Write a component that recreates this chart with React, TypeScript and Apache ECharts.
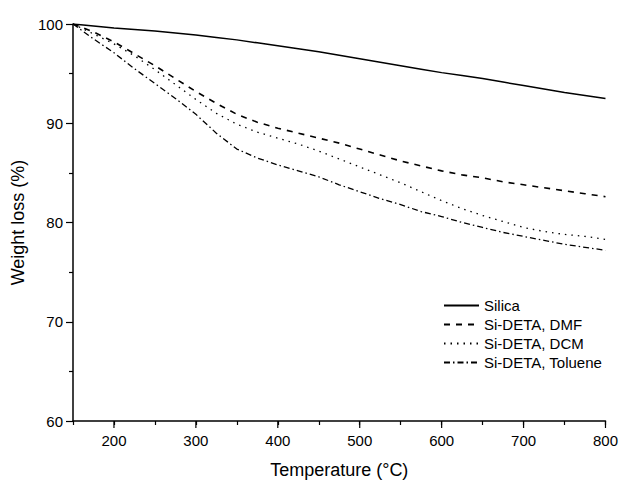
import React, { useEffect, useRef } from "react";
import * as echarts from "echarts";

const temps = [150, 175, 200, 225, 250, 275, 300, 325, 350, 375, 400, 425, 450, 475, 500, 525, 550, 575, 600, 625, 650, 675, 700, 725, 750, 775, 800];
const silica = [100, 99.8, 99.6, 99.45, 99.3, 99.1, 98.9, 98.65, 98.4, 98.1, 97.8, 97.5, 97.2, 96.85, 96.5, 96.15, 95.8, 95.45, 95.1, 94.8, 94.5, 94.15, 93.8, 93.45, 93.1, 92.8, 92.5];
const dmf = [100, 99.2, 98.2, 97.0, 95.8, 94.5, 93.2, 92.0, 90.9, 90.1, 89.5, 89.0, 88.5, 88.0, 87.4, 86.8, 86.2, 85.7, 85.2, 84.8, 84.5, 84.1, 83.8, 83.5, 83.2, 82.9, 82.6];
const dcm = [100, 99.0, 98.0, 96.8, 95.4, 93.9, 92.4, 91.0, 89.9, 89.1, 88.5, 87.9, 87.2, 86.4, 85.6, 84.8, 84.0, 83.1, 82.2, 81.4, 80.7, 80.1, 79.5, 79.1, 78.8, 78.6, 78.3];
const toluene = [100, 98.5, 97.1, 95.5, 94.0, 92.5, 90.9, 89.0, 87.4, 86.5, 85.8, 85.2, 84.6, 83.8, 83.1, 82.4, 81.8, 81.1, 80.6, 80.0, 79.5, 79.0, 78.6, 78.2, 77.8, 77.5, 77.2];
const seriesNames = ["Silica", "Si-DETA, DMF", "Si-DETA, DCM", "Si-DETA, Toluene"];
const majorXTicks = [200, 300, 400, 500, 600, 700, 800];

const FONT = "Liberation Sans, Arial, sans-serif";

export default function App() {
  const ref = useRef<HTMLDivElement>(null);
  useEffect(() => {
    if (!ref.current) return;
    const chart = echarts.init(ref.current, null, { renderer: "svg" });
    const pair = (ys: number[]) => temps.map((t, i) => [t, ys[i]]);
    const axisColor = "#000";
    const hiddenSymbol = { color: "#000", opacity: 0 };
    chart.setOption({
      animation: false,
      backgroundColor: "#fff",
      textStyle: { fontFamily: FONT },
      grid: { left: 73, right: 12, top: 24, bottom: 61, containLabel: false },
      legend: {
        data: seriesNames,
        orient: "vertical",
        left: 438,
        top: 293,
        itemWidth: 35,
        itemHeight: 15,
        itemGap: 4,
        itemStyle: { opacity: 0 },
        textStyle: { fontFamily: FONT, fontSize: 15, color: "#000" },
      },
      xAxis: {
        type: "value",
        min: 150,
        max: 800,
        interval: 50,
        name: "Temperature (°C)",
        nameLocation: "middle",
        nameGap: 40,
        nameTextStyle: { fontFamily: FONT, fontSize: 18, color: "#000" },
        axisLine: { show: true, lineStyle: { color: axisColor, width: 1.5 } },
        axisTick: { show: true, inside: false, length: 4, lineStyle: { color: axisColor, width: 1.2 } },
        axisLabel: {
          fontFamily: FONT,
          fontSize: 15,
          color: "#000",
          margin: 12,
          formatter: (v: number) => (v % 100 === 0 ? String(v) : ""),
        },
        splitLine: { show: false },
      },
      yAxis: {
        type: "value",
        min: 60,
        max: 100,
        interval: 10,
        name: "Weight loss (%)",
        nameLocation: "middle",
        nameGap: 37,
        nameTextStyle: { fontFamily: FONT, fontSize: 18, color: "#000" },
        axisLine: { show: true, lineStyle: { color: axisColor, width: 1.5 } },
        axisTick: { show: true, inside: false, length: 7, lineStyle: { color: axisColor, width: 1.2 } },
        minorTick: { show: true, splitNumber: 2, length: 4, lineStyle: { color: axisColor, width: 1.2 } },
        axisLabel: { fontFamily: FONT, fontSize: 15, color: "#000", margin: 10 },
        splitLine: { show: false },
      },
      series: [
        {
          name: seriesNames[0],
          type: "line",
          data: pair(silica),
          symbol: "none",
          lineStyle: { color: "#000", width: 1.5, type: "solid" },
          itemStyle: hiddenSymbol,
        },
        {
          name: seriesNames[1],
          type: "line",
          data: pair(dmf),
          symbol: "none",
          lineStyle: { color: "#000", width: 1.6, type: [6, 6] },
          itemStyle: hiddenSymbol,
        },
        {
          name: seriesNames[2],
          type: "line",
          data: pair(dcm),
          symbol: "none",
          lineStyle: { color: "#000", width: 1.3, type: [1.5, 5] },
          itemStyle: hiddenSymbol,
        },
        {
          name: seriesNames[3],
          type: "line",
          data: pair(toluene),
          symbol: "none",
          lineStyle: { color: "#000", width: 1.3, type: [6, 3, 1.5, 3] },
          itemStyle: hiddenSymbol,
        },
        {
          name: "majorTicks",
          type: "custom",
          silent: true,
          clip: false,
          data: majorXTicks.map((t) => [t, 60]),
          renderItem: (params: any, api: any) => {
            const p = api.coord([api.value(0), api.value(1)]);
            return {
              type: "line",
              shape: { x1: p[0], y1: p[1], x2: p[0], y2: p[1] + 7 },
              style: { stroke: "#000", lineWidth: 1.2 },
            };
          },
        },
      ],
    });
    return () => chart.dispose();
  }, []);
  return (
    <div
      ref={ref}
      style={{ position: "fixed", left: 0, top: 0, width: 621, height: 484, background: "#fff" }}
    />
  );
}
